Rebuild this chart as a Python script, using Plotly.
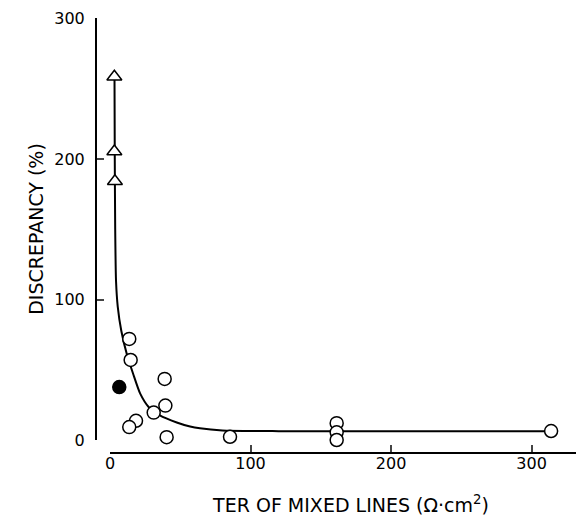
import plotly.graph_objects as go

# Open circles
circ_x = [13.7, 14.7, 38.9, 39.4, 31.1, 18.5, 13.7, 40.3, 85.4, 161.3, 161.3, 161.3, 313.9]
circ_y = [72.0, 57.0, 43.5, 24.5, 19.5, 13.7, 9.2, 2.0, 2.3, 12.0, 5.5, 0.0, 6.4]
# Filled circle
fill_x = [6.6]
fill_y = [37.7]
# Open triangles
tri_x = [3.1, 3.1, 3.5]
tri_y = [258.7, 205.4, 184.3]
# Fitted curve
curve_x = [3.2, 3.4, 3.7, 4.3, 5.5, 8.0, 12.0, 16.5, 21.5, 27.5, 35.5, 47.5, 57.0, 64.0, 80.0, 120.0, 200.0, 314.0]
curve_y = [259.0, 200.0, 150.0, 113.0, 95.0, 78.0, 61.0, 47.0, 33.0, 23.5, 17.5, 12.5, 9.6, 8.3, 6.8, 6.3, 6.2, 6.2]

y_ticks = [0, 100, 200, 300]
x_ticks = [0, 100, 200, 300]

FONT = "DejaVu Sans"

fig = go.Figure()
fig.add_trace(go.Scatter(x=curve_x, y=curve_y, mode="lines",
                         line=dict(color="black", width=2, shape="spline", smoothing=0.6),
                         hoverinfo="skip", showlegend=False))
fig.add_trace(go.Scatter(x=circ_x, y=circ_y, mode="markers",
                         marker=dict(symbol="circle", size=13, color="white",
                                     line=dict(color="black", width=1.5)),
                         cliponaxis=False, showlegend=False))
fig.add_trace(go.Scatter(x=fill_x, y=fill_y, mode="markers",
                         marker=dict(symbol="circle", size=13, color="black",
                                     line=dict(color="black", width=1.5)),
                         cliponaxis=False, showlegend=False))
fig.add_trace(go.Scatter(x=tri_x, y=tri_y, mode="markers",
                         marker=dict(symbol="triangle-up", size=13, color="white",
                                     line=dict(color="black", width=1.5)),
                         cliponaxis=False, showlegend=False))

fig.update_layout(
    width=584, height=520,
    margin=dict(l=88, r=0, t=10, b=75, autoexpand=False),
    plot_bgcolor="white", paper_bgcolor="white",
    font=dict(family=FONT, color="black", size=17),
    xaxis=dict(domain=[14/496, 1], range=[0, 343.0], anchor="free", position=0,
               automargin=False, ticklabeloverflow="allow",
               tickvals=x_ticks, ticktext=[str(v) for v in x_ticks],
               ticks="inside", ticklen=7, tickwidth=2, showline=True, linewidth=2,
               linecolor="black", showgrid=False, zeroline=False,
               tickfont=dict(size=16), ticklabelstandoff=-4,
               title=dict(text="TER OF MIXED LINES (Ω·cm<sup>2</sup>)", font=dict(size=19), standoff=25)),
    yaxis=dict(domain=[13/435, 1], range=[0, 300.5], anchor="free", position=0,
               automargin=False, ticklabeloverflow="allow",
               tickvals=y_ticks, ticktext=[str(v) for v in y_ticks],
               ticks="inside", ticklen=7, tickwidth=2, showline=True, linewidth=2,
               linecolor="black", showgrid=False, zeroline=False,
               tickfont=dict(size=16), ticklabelstandoff=7,
               title=dict(text="DISCREPANCY (%)", font=dict(size=19), standoff=5)),
)

fig.write_html("out.html")
